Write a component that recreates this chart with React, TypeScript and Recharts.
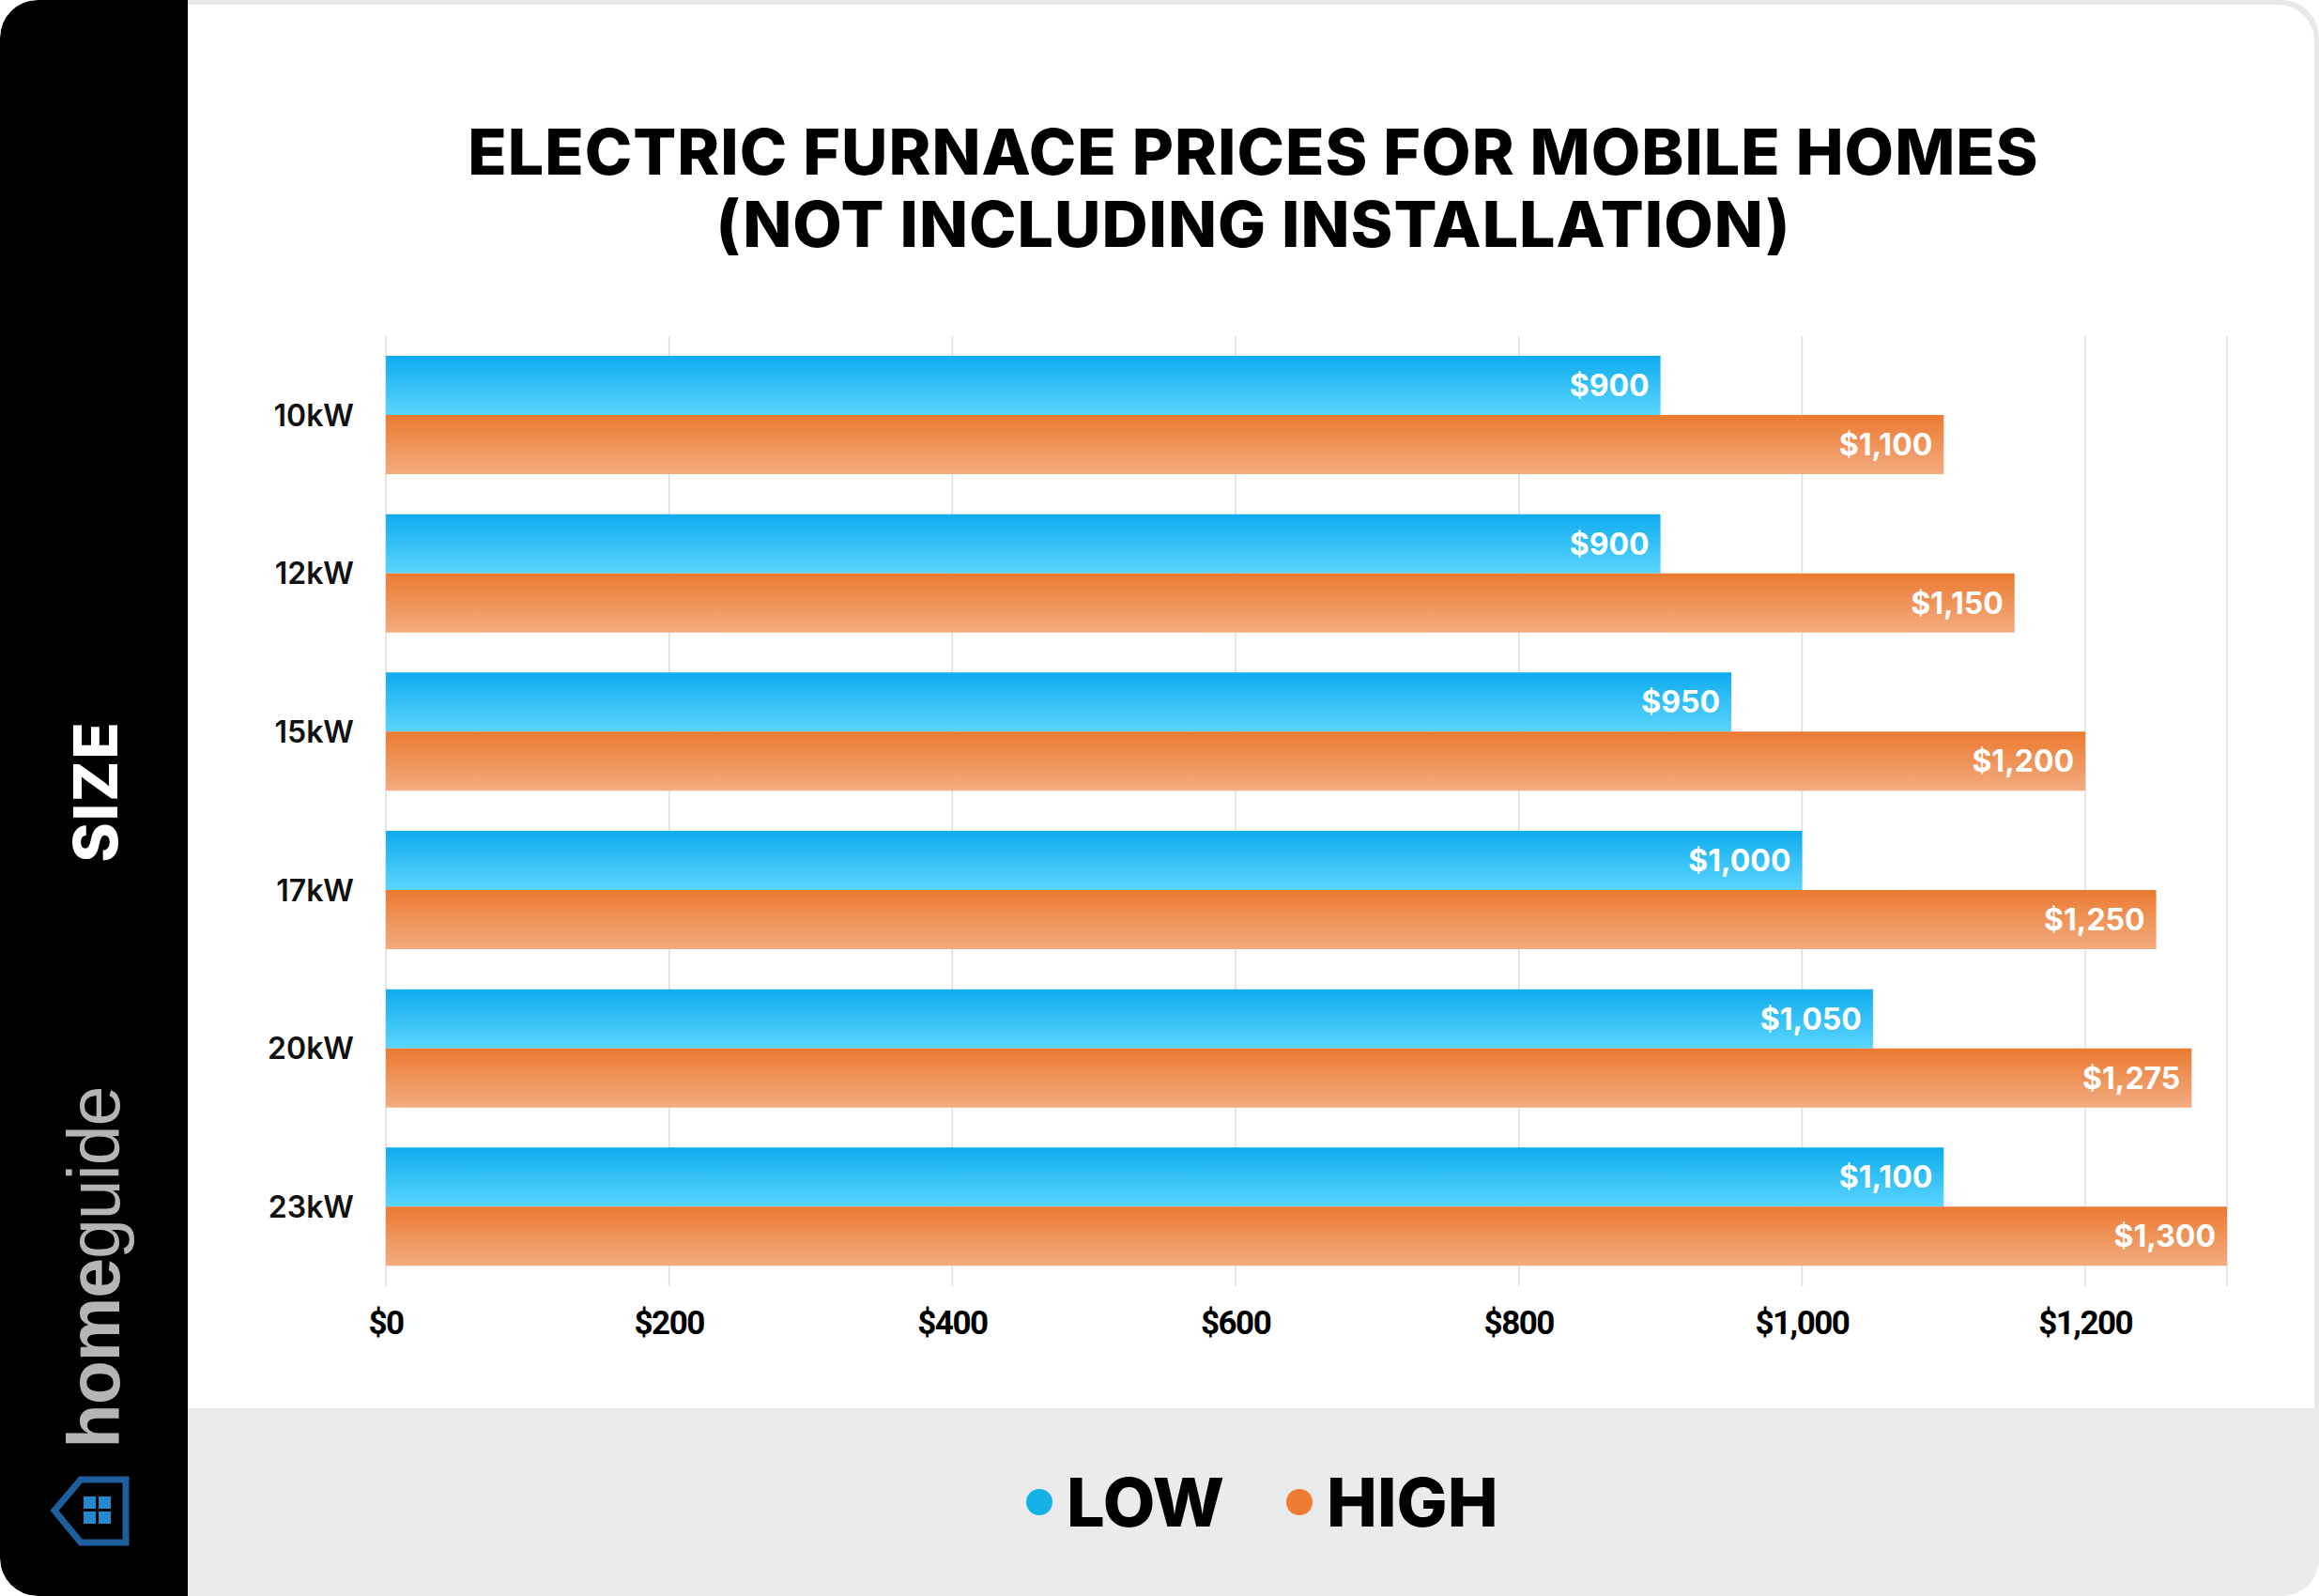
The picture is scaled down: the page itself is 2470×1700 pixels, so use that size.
import { BarChart, Bar, XAxis, YAxis, CartesianGrid, LabelList } from 'recharts';

// furnace sizes, top to bottom
const sizes = ['10kW', '12kW', '15kW', '17kW', '20kW', '23kW'];
const lowPrices = [900, 900, 950, 1000, 1050, 1100];
const highPrices = [1100, 1150, 1200, 1250, 1275, 1300];
const priceTicks = [0, 200, 400, 600, 800, 1000, 1200];
const seriesNames = ['LOW', 'HIGH'];
const seriesDots = ['#14b1e7', '#ef7c34'];

const data = sizes.map((size, i) => ({ size, low: lowPrices[i], high: highPrices[i] }));

const money = (v: number) => `$${Number(v).toLocaleString('en-US')}`;

const headFont = 'Inter, "Open Sans", sans-serif';

function HouseIcon() {
  return (
    <svg width={96} height={84} style={{ position: 'absolute', left: 48, top: 1567 }}>
      <polygon points="10,42 38,9 86,9 86,76 38,76" fill="none" stroke="#1c5f9c" strokeWidth={7} strokeLinejoin="miter" />
      <rect x={41} y={27} width={13} height={13} fill="#2389cf" />
      <rect x={57} y={27} width={13} height={13} fill="#2389cf" />
      <rect x={41} y={43} width={13} height={13} fill="#2389cf" />
      <rect x={57} y={43} width={13} height={13} fill="#2389cf" />
    </svg>
  );
}

export default function App() {
  return (
    <div
      style={{
        position: 'absolute',
        left: 0,
        top: 0,
        width: 2470,
        height: 1700,
        background: '#e8e8e8',
        borderRadius: 40,
        overflow: 'hidden',
      }}
    >
      {/* white card */}
      <div
        style={{
          position: 'absolute',
          left: 200,
          top: 5,
          width: 2265,
          height: 1495,
          background: '#ffffff',
          borderTopRightRadius: 38,
        }}
      />
      {/* legend band */}
      <div
        style={{
          position: 'absolute',
          left: 200,
          top: 1500,
          width: 2270,
          height: 200,
          background: '#ebebeb',
        }}
      />
      {/* black side bar */}
      <div
        style={{
          position: 'absolute',
          left: 0,
          top: 0,
          width: 200,
          height: 1700,
          background: '#000000',
          borderTopLeftRadius: 40,
          borderBottomLeftRadius: 40,
        }}
      />
      <div
        style={{
          position: 'absolute',
          left: 102,
          top: 843,
          transform: 'translate(-50%, -50%) rotate(-90deg)',
          color: '#ffffff',
          fontFamily: headFont,
          fontWeight: 800,
          fontSize: 64,
          letterSpacing: 2,
          whiteSpace: 'nowrap',
          lineHeight: 1,
        }}
      >
        SIZE
      </div>
      <div
        style={{
          position: 'absolute',
          left: 100,
          top: 1350,
          transform: 'translate(-50%, -50%) rotate(-90deg)',
          color: '#b5b5b5',
          fontFamily: '"Liberation Sans", Arial, sans-serif',
          fontSize: 77,
          letterSpacing: -1,
          whiteSpace: 'nowrap',
          lineHeight: 1,
        }}
      >
        <span style={{ fontWeight: 700 }}>home</span>
        <span style={{ fontWeight: 400 }}>guide</span>
      </div>
      <HouseIcon />

      {/* title */}
      <div
        style={{
          position: 'absolute',
          left: 200,
          top: 123,
          width: 2270,
          textAlign: 'center',
          fontFamily: headFont,
          fontWeight: 800,
          fontSize: 68,
          lineHeight: '77px',
          letterSpacing: 1,
          color: '#000000',
        }}
      >
        ELECTRIC FURNACE PRICES FOR MOBILE HOMES
        <br />
        (NOT INCLUDING INSTALLATION)
      </div>

      <div style={{ position: 'absolute', left: 200, top: 0 }}>
        <BarChart
          layout="vertical"
          width={2265}
          height={1500}
          data={data}
          margin={{ top: 358, right: 93, bottom: 70, left: 61 }}
          barCategoryGap={21}
          barGap={0}
        >
          <defs>
            <linearGradient id="gradLow" x1="0" y1="0" x2="0" y2="1">
              <stop offset="0%" stopColor="#0eacee" />
              <stop offset="100%" stopColor="#5bd5fe" />
            </linearGradient>
            <linearGradient id="gradHigh" x1="0" y1="0" x2="0" y2="1">
              <stop offset="0%" stopColor="#eb7a31" />
              <stop offset="100%" stopColor="#f3ac80" />
            </linearGradient>
          </defs>
          <CartesianGrid horizontal={false} stroke="#dedede" strokeWidth={1.5} />
          <XAxis
            type="number"
            domain={[0, 1300]}
            ticks={priceTicks}
            interval={0}
            tickFormatter={money}
            axisLine={false}
            tickLine={false}
            height={60}
            tickMargin={20}
            tick={{ fill: '#000', fontSize: 35, fontWeight: 700, fontFamily: 'Roboto, sans-serif', letterSpacing: -1.5 }}
          />
          <YAxis
            type="category"
            dataKey="size"
            width={150}
            axisLine={false}
            tickLine={false}
            tickMargin={28}
            tick={{ fill: '#111', fontSize: 32, fontWeight: 600, fontFamily: headFont }}
          />
          <Bar dataKey="low" name={seriesNames[0]} fill="url(#gradLow)" isAnimationActive={false}>
            <LabelList
              dataKey="low"
              position="insideRight"
              offset={12}
              formatter={money}
              fill="#ffffff"
              fontSize={32}
              fontWeight={700}
              fontFamily={headFont}
            />
          </Bar>
          <Bar dataKey="high" name={seriesNames[1]} fill="url(#gradHigh)" isAnimationActive={false}>
            <LabelList
              dataKey="high"
              position="insideRight"
              offset={12}
              formatter={money}
              fill="#ffffff"
              fontSize={32}
              fontWeight={700}
              fontFamily={headFont}
            />
          </Bar>
        </BarChart>
      </div>

      {/* legend */}
      <div
        style={{
          position: 'absolute',
          left: 1093,
          top: 1500,
          height: 200,
          display: 'flex',
          alignItems: 'center',
        }}
      >
        {seriesNames.map((name, i) => (
          <div key={name} style={{ display: 'flex', alignItems: 'center', marginRight: 66 }}>
            <span
              style={{
                width: 28,
                height: 28,
                borderRadius: '50%',
                background: seriesDots[i],
                marginRight: 15,
                display: 'inline-block',
              }}
            />
            <span
              style={{
                fontFamily: headFont,
                fontWeight: 800,
                fontSize: 72,
                lineHeight: 1,
                letterSpacing: 0,
                color: '#000',
              }}
            >
              {name}
            </span>
          </div>
        ))}
      </div>
    </div>
  );
}
